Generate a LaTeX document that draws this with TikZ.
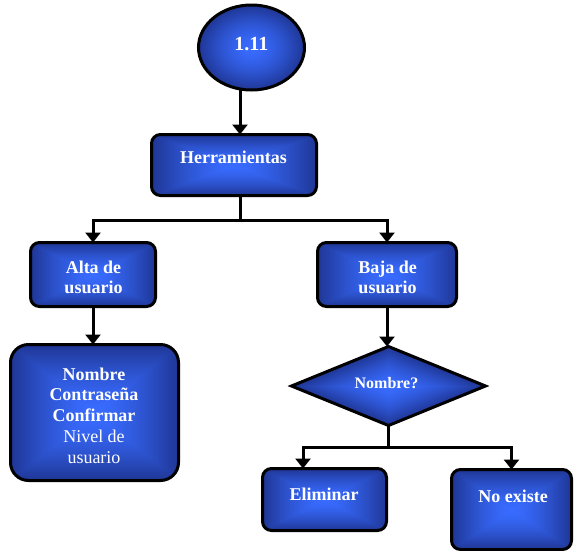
\documentclass[tikz,border=0pt]{standalone}
\usepackage{fontspec}
\setmainfont{Liberation Serif}
\usetikzlibrary{shapes.geometric,arrows.meta}

% Glow fills: bright blue in the middle, dark navy towards the border.
% Rectangular rings for boxes, round for the ellipse, rhombic for the diamond.
\pgfdeclarefunctionalshading{rectglow}{\pgfpoint{-50bp}{-50bp}}{\pgfpoint{50bp}{50bp}}{}{
  abs exch abs 2 copy lt {exch} if pop 25 div dup 1 gt {pop 1} if dup sqrt mul
  dup -0.10 mul 0.22 add exch dup -0.21 mul 0.42 add exch -0.42 mul 1.0 add
}
\pgfdeclarefunctionalshading{roundglow}{\pgfpoint{-50bp}{-50bp}}{\pgfpoint{50bp}{50bp}}{}{
  dup mul exch dup mul add sqrt 25 div dup 1 gt {pop 1} if dup sqrt mul
  dup -0.10 mul 0.22 add exch dup -0.21 mul 0.42 add exch -0.42 mul 1.0 add
}
\pgfdeclarefunctionalshading{rhombglow}{\pgfpoint{-50bp}{-50bp}}{\pgfpoint{50bp}{50bp}}{}{
  abs exch abs add 25 div dup 1 gt {pop 1} if dup sqrt mul
  dup -0.10 mul 0.22 add exch dup -0.21 mul 0.42 add exch -0.42 mul 1.0 add
}

\newcommand{\stack}[1]{\begin{tabular}[t]{@{}c@{}}#1\end{tabular}}

\begin{document}
\begin{tikzpicture}[x=1pt,y=-1pt,
  box/.style={draw=black, line width=3pt, rounded corners=9pt, shade, shading=rectglow,
    inner sep=0pt, outer sep=0pt},
  ovalbox/.style={ellipse, draw=black, line width=3pt, shade, shading=roundglow,
    inner sep=0pt, outer sep=0pt},
  decision/.style={diamond, draw=black, line width=3pt, shade, shading=rhombglow,
    inner sep=0pt, outer sep=0pt},
  lbl/.style={text=white, font=\fontsize{18}{20.8}\selectfont\bfseries,
    inner sep=0pt, anchor=base},
  link/.style={line width=3pt},
  arr/.style={line width=3pt, -{Triangle[width=15pt,length=10pt]}}]

\useasboundingbox (0,0) rectangle (574,550);

% shapes
\node[ovalbox, minimum width=106pt, minimum height=85pt] (ell) at (251.5,47.5) {};
\node[box, minimum width=165pt, minimum height=61pt] (herr) at (234,165) {};
\node[box, minimum width=125pt, minimum height=64pt] (alta) at (93,274.5) {};
\node[box, minimum width=139pt, minimum height=64pt] (baja) at (387,274.5) {};
\node[box, rounded corners=18pt, minimum width=168pt, minimum height=136pt] (info) at (94.5,412.5) {};
\node[decision, minimum width=194pt, minimum height=79pt] (dia) at (388.5,386) {};
\node[box, minimum width=124pt, minimum height=62pt] (elim) at (324.5,499.5) {};
\node[box, minimum width=120pt, minimum height=80pt] (noex) at (511.5,509.5) {};

% labels
\node[lbl, font=\fontsize{20}{24}\selectfont\bfseries] (ellT) at (251.3,50) {1.11};
\node[lbl] (herrT) at (233.5,163.3) {Herramientas};
\node[lbl] (altaT) at (93.5,273) {\stack{Alta de\\usuario}};
\node[lbl] (bajaT) at (387.5,273) {\stack{Baja de\\usuario}};
\node[lbl] (infoT) at (94,380) {\stack{Nombre\\Contraseña\\Confirmar\\{\mdseries Nivel de}\\{\mdseries usuario}}};
\node[lbl, font=\fontsize{16}{19}\selectfont\bfseries] (diaT) at (386.5,388.3) {Nombre?};
\node[lbl] (elimT) at (324,500) {Eliminar};
\node[lbl] (noexT) at (513,502.7) {No existe};

% connectors
\coordinate (c0) at (240,92);
\coordinate (s1) at (240,220);
\coordinate (s2) at (388,447);
\coordinate (e2) at (303,447);

\draw[arr] (ell.south -| c0) -- (herr.north -| c0);
\draw[link] (herr.south -| s1) -- (s1);
\draw[arr] (s1) -| (alta.north);
\draw[arr] (s1) -| (baja.north);
\draw[arr] (alta.south) -- (alta.south |- info.north);
\draw[arr] (baja.south) -- (baja.south |- dia.north);
\draw[link] (dia.south) -- (dia.south |- s2);
\draw[arr] (s2) -- (e2) -- (e2 |- elim.north);
\draw[arr] (s2) -| (noex.north);
\end{tikzpicture}
\end{document}
